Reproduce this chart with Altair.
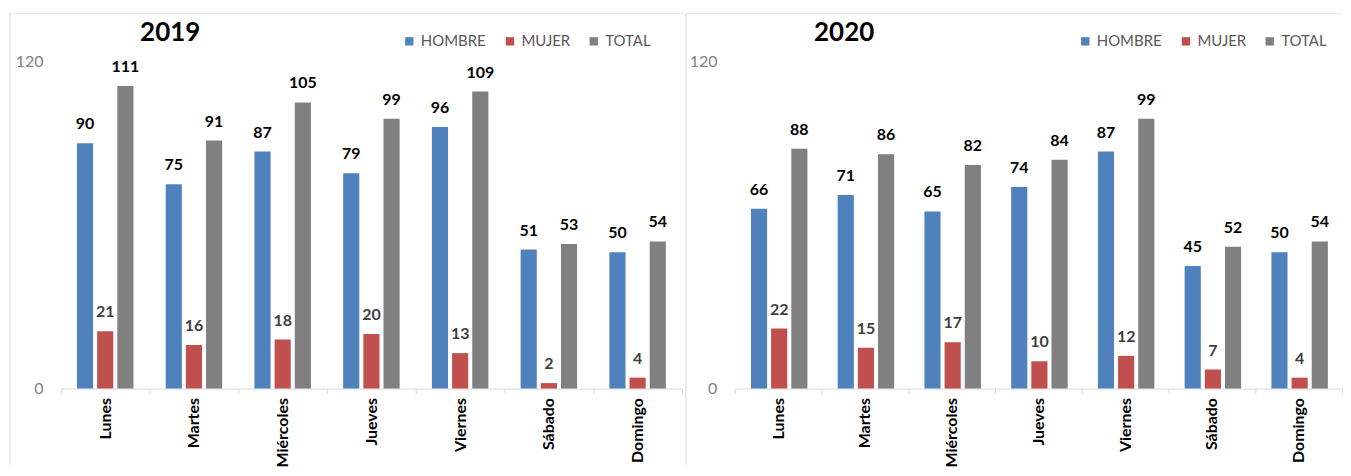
import altair as alt
import pandas as pd

dias = ["Lunes", "Martes", "Miércoles", "Jueves", "Viernes", "Sábado", "Domingo"]
series = ["HOMBRE", "MUJER", "TOTAL"]
colores = ["#4F81BD", "#C0504D", "#808080"]

hombre_2019 = [90, 75, 87, 79, 96, 51, 50]
mujer_2019 = [21, 16, 18, 20, 13, 2, 4]
total_2019 = [111, 91, 105, 99, 109, 53, 54]

hombre_2020 = [66, 71, 65, 74, 87, 45, 50]
mujer_2020 = [22, 15, 17, 10, 12, 7, 4]
total_2020 = [88, 86, 82, 84, 99, 52, 54]

FONT = "Lato"
FRAME = "#D9D9D9"


def to_long(h, m, t):
    rows = []
    for i, d in enumerate(dias):
        for s, v in zip(series, [h[i], m[i], t[i]]):
            rows.append({"dia": d, "serie": s, "valor": v})
    return pd.DataFrame(rows)


def panel(df, title, step, legend_x, frame_left, frame_right, title_dx):
    width = step * 7
    base = alt.Chart(df).encode(
        x=alt.X(
            "dia:N",
            sort=dias,
            scale=alt.Scale(paddingInner=0, paddingOuter=0),
            axis=alt.Axis(
                title=None,
                labelAngle=-90,
                labelFont=FONT,
                labelFontSize=16,
                labelFontWeight="bold",
                labelColor="#000000",
                labelPadding=4,
                tickBand="extent",
                tickSize=5,
                tickColor=FRAME,
                domainColor=FRAME,
                grid=False,
            ),
        ),
        xOffset=alt.XOffset(
            "serie:N", sort=series, scale=alt.Scale(paddingInner=0.2, paddingOuter=0.8)
        ),
        y=alt.Y(
            "valor:Q",
            scale=alt.Scale(domain=[0, 120], nice=False),
            axis=alt.Axis(
                title=None,
                values=[0, 120],
                ticks=False,
                domain=False,
                grid=False,
                labelFont=FONT,
                labelFontSize=16,
                labelColor="#7F7F7F",
                labelPadding=18,
            ),
        ),
    )
    bars = base.mark_bar().encode(
        color=alt.Color(
            "serie:N",
            sort=series,
            scale=alt.Scale(domain=series, range=colores),
            legend=alt.Legend(
                title=None,
                orient="none",
                legendX=legend_x,
                legendY=-28,
                direction="horizontal",
                symbolType="square",
                symbolSize=70,
                symbolStrokeWidth=0,
                labelFont=FONT,
                labelFontSize=15,
                labelColor="#595959",
                labelOffset=4,
                columnPadding=16,
            ),
        )
    )
    text = base.mark_text(
        dy=-14, baseline="alphabetic", fontWeight="bold", fontSize=16, font=FONT
    ).encode(
        text="valor:Q",
        color=alt.condition(
            alt.datum.serie == "MUJER", alt.value("#404040"), alt.value("#000000")
        ),
    )
    frame_src = alt.Chart(pd.DataFrame({"k": [0]}))
    frame_v = frame_src.mark_rule(color=FRAME, strokeWidth=1).encode(
        x=alt.value(frame_left), y=alt.value(-48), y2=alt.value(405)
    )
    frame_h = frame_src.mark_rule(color="#EBEBEB", strokeWidth=1).encode(
        x=alt.value(frame_left), x2=alt.value(width + frame_right), y=alt.value(-48)
    )
    return alt.layer(frame_h, frame_v, bars, text).properties(
        width=width,
        height=328,
        title=alt.Title(
            title,
            anchor="start",
            dx=title_dx,
            offset=-33,
            fontSize=26,
            font=FONT,
            fontWeight="bold",
            color="#000000",
        ),
    )


left = panel(to_long(hombre_2019, mujer_2019, total_2019), "2019", 89, 342, -51, 2, 131)
right = panel(to_long(hombre_2020, mujer_2020, total_2020), "2020", 87, 344, -49, 0, 129)

chart = (
    alt.hconcat(left, right, spacing=0)
    .resolve_scale(color="independent")
    .resolve_legend(color="independent")
    .properties(padding={"left": 1, "top": 4, "right": 0, "bottom": 0}, background="white")
    .configure_view(stroke=None)
)

chart.save("out.html", embed_options={"renderer": "svg", "actions": False})
